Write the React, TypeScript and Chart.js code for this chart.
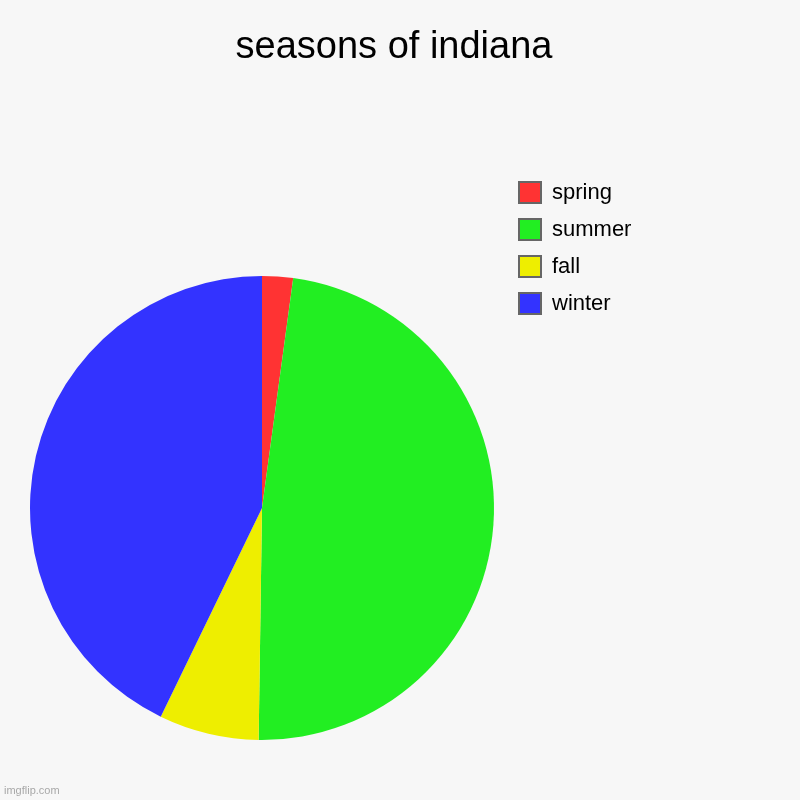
import React, { useEffect, useRef } from "react";
import { Chart, registerables } from "chart.js";

Chart.register(...registerables);

const chartTitle = "seasons of indiana";
const categories = ["spring", "summer", "fall", "winter"];
const seasonValues = [2.15, 48.08, 6.96, 42.81];
const sliceColors = ["#ff3333", "#22ee22", "#eeee00", "#3333ff"];

const FONT = "'Liberation Sans', Arial, Helvetica, sans-serif";
const BG = "#f7f7f7";

const placeBoxes = {
  id: "placeBoxes",
  afterLayout(chart: any) {
    const t = chart.titleBlock;
    if (t) {
      t.left = 0;
      t.right = 788;
      t.width = 788;
    }
    const lg = chart.legend;
    if (lg) {
      const w = lg.width;
      const h = lg.height;
      lg.left = 504;
      lg.top = 166.5;
      lg.right = 504 + w;
      lg.bottom = 166.5 + h;
    }
  },
};

const bgPlugin = {
  id: "bgFill",
  beforeDraw(chart: any) {
    const ctx = chart.ctx;
    ctx.save();
    ctx.fillStyle = BG;
    ctx.fillRect(0, 0, chart.width, chart.height);
    ctx.restore();
  },
};

export default function App() {
  const ref = useRef<HTMLCanvasElement | null>(null);

  useEffect(() => {
    if (!ref.current) return;
    const chart = new Chart(ref.current, {
      type: "pie",
      data: {
        labels: categories,
        datasets: [
          {
            data: seasonValues,
            backgroundColor: sliceColors,
            borderWidth: 0,
          },
        ],
      },
      options: {
        responsive: false,
        animation: false,
        events: [],
        layout: { padding: { left: 30, right: 306, top: 0, bottom: 60 } },
        plugins: {
          tooltip: { enabled: false },
          title: {
            display: true,
            text: chartTitle,
            color: "#000",
            font: { family: FONT, size: 38, weight: "normal", lineHeight: 1.2 },
            padding: { top: 25, bottom: 205.4 },
          },
          legend: {
            display: true,
            position: "chartArea" as any,
            align: "start",
            labels: {
              boxWidth: 22,
              boxHeight: 21,
              padding: 15,
              color: "#000",
              font: { family: FONT, size: 22 },
              generateLabels(chart: any) {
                const base = (Chart as any).overrides.pie.plugins.legend.labels.generateLabels(chart);
                return base.map((it: any) => ({
                  ...it,
                  strokeStyle: "#666666",
                  lineWidth: 2,
                }));
              },
            },
          },
        },
      },
      plugins: [placeBoxes, bgPlugin],
    });
    return () => chart.destroy();
  }, []);

  return (
    <div
      style={{
        position: "fixed",
        left: 0,
        top: 0,
        width: 800,
        height: 800,
        background: BG,
        overflow: "hidden",
      }}
    >
      <canvas ref={ref} width={800} height={800} style={{ display: "block" }} />
      <span
        style={{
          position: "absolute",
          left: 4,
          top: 783,
          fontFamily: FONT,
          fontSize: 11,
          color: "#a8a8a8",
          lineHeight: "14px",
        }}
      >
        imgflip.com
      </span>
    </div>
  );
}
